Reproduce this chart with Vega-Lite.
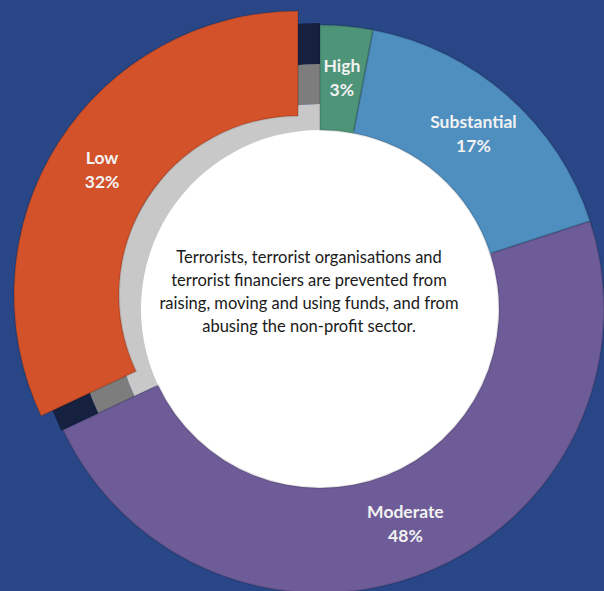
{
  "$schema": "https://vega.github.io/schema/vega-lite/v6.json",
  "width": 568,
  "height": 564,
  "autosize": {"type": "none"},
  "padding": {"left": 36, "top": 27, "right": 0, "bottom": 0},
  "background": "#294686",
  "config": {
    "view": {
      "stroke": null,
      "fill": {
        "gradient": "linear",
        "x1": 0, "y1": 1, "x2": 1, "y2": 0,
        "stops": [
          {"offset": 0, "color": "#244b8e"},
          {"offset": 1, "color": "#2d3876"}
        ]
      }
    }
  },
  "datasets": {
    "levels": [
      {"level": "High", "share": 3, "label": "High\n3%", "rank": 1},
      {"level": "Substantial", "share": 17, "label": "Substantial\n17%", "rank": 2},
      {"level": "Moderate", "share": 48, "label": "Moderate\n48%", "rank": 3},
      {"level": "Low", "share": 32, "label": "Low\n32%", "rank": 4}
    ],
    "caption": [
      {"text": "Terrorists, terrorist organisations and\nterrorist financiers are prevented from\nraising, moving and using funds, and from\nabusing the non-profit sector."}
    ],
    "disk": [{"v": 100}]
  },
  "layer": [
    {
      "data": {"name": "disk"},
      "mark": {"type": "arc", "radius": 182, "color": "#ffffff"},
      "encoding": {"theta": {"field": "v", "type": "quantitative"}}
    },
    {
      "data": {"name": "levels"},
      "mark": {"type": "arc", "radius": 286, "radius2": 245, "color": "#15213f"},
      "encoding": {
        "theta": {"field": "share", "type": "quantitative", "stack": true},
        "order": {"field": "rank", "type": "quantitative"},
        "opacity": {"condition": {"test": "datum.level === 'Low'", "value": 1}, "value": 0}
      }
    },
    {
      "data": {"name": "levels"},
      "mark": {"type": "arc", "radius": 245, "radius2": 205, "color": "#7d7d7d"},
      "encoding": {
        "theta": {"field": "share", "type": "quantitative", "stack": true},
        "order": {"field": "rank", "type": "quantitative"},
        "opacity": {"condition": {"test": "datum.level === 'Low'", "value": 1}, "value": 0}
      }
    },
    {
      "data": {"name": "levels"},
      "mark": {"type": "arc", "radius": 205, "radius2": 179, "color": "#c8c8c8"},
      "encoding": {
        "theta": {"field": "share", "type": "quantitative", "stack": true},
        "order": {"field": "rank", "type": "quantitative"},
        "opacity": {"condition": {"test": "datum.level === 'Low'", "value": 1}, "value": 0}
      }
    },
    {
      "data": {"name": "levels"},
      "mark": {"type": "arc", "radius": 284, "radius2": 179, "stroke": "#000000", "strokeOpacity": 0.12, "strokeWidth": 2},
      "encoding": {
        "theta": {"field": "share", "type": "quantitative", "stack": true},
        "order": {"field": "rank", "type": "quantitative"},
        "color": {
          "field": "level", "type": "nominal", "legend": null,
          "scale": {"domain": ["High", "Substantial", "Moderate", "Low"], "range": ["#4e9478", "#4f8fbf", "#6e5c98", "#d4522a"]}
        },
        "opacity": {"condition": {"test": "datum.level === 'Low'", "value": 0}, "value": 1}
      }
    },
    {
      "data": {"name": "levels"},
      "mark": {"type": "arc", "radius": 284, "radius2": 179, "xOffset": -22, "yOffset": -14, "stroke": "#000000", "strokeOpacity": 0.12, "strokeWidth": 2},
      "encoding": {
        "theta": {"field": "share", "type": "quantitative", "stack": true},
        "order": {"field": "rank", "type": "quantitative"},
        "color": {"field": "level", "type": "nominal", "legend": null},
        "opacity": {"condition": {"test": "datum.level === 'Low'", "value": 1}, "value": 0}
      }
    },
    {
      "data": {"name": "levels"},
      "mark": {"type": "text", "radius": 232, "dy": -11.5, "font": "Lato", "fontWeight": "bold", "fontSize": 17.5, "color": "#f2f2f2", "lineBreak": "\n", "lineHeight": 24, "baseline": "middle", "align": "center"},
      "encoding": {
        "theta": {"field": "share", "type": "quantitative", "stack": true},
        "order": {"field": "rank", "type": "quantitative"},
        "text": {"field": "label", "type": "nominal"},
        "opacity": {"condition": {"test": "datum.level === 'Low'", "value": 0}, "value": 1}
      }
    },
    {
      "data": {"name": "levels"},
      "mark": {"type": "text", "radius": 232, "dx": -22, "dy": -25.5, "font": "Lato", "fontWeight": "bold", "fontSize": 17.5, "color": "#f2f2f2", "lineBreak": "\n", "lineHeight": 24, "baseline": "middle", "align": "center"},
      "encoding": {
        "theta": {"field": "share", "type": "quantitative", "stack": true},
        "order": {"field": "rank", "type": "quantitative"},
        "text": {"field": "label", "type": "nominal"},
        "opacity": {"condition": {"test": "datum.level === 'Low'", "value": 1}, "value": 0}
      }
    },
    {
      "data": {"name": "caption"},
      "mark": {"type": "text", "font": "Lato", "fontSize": 16.5, "color": "#1a1a1a", "lineBreak": "\n", "lineHeight": 23, "baseline": "middle", "align": "center", "dx": -11, "dy": -51},
      "encoding": {"text": {"field": "text", "type": "nominal"}}
    }
  ]
}
